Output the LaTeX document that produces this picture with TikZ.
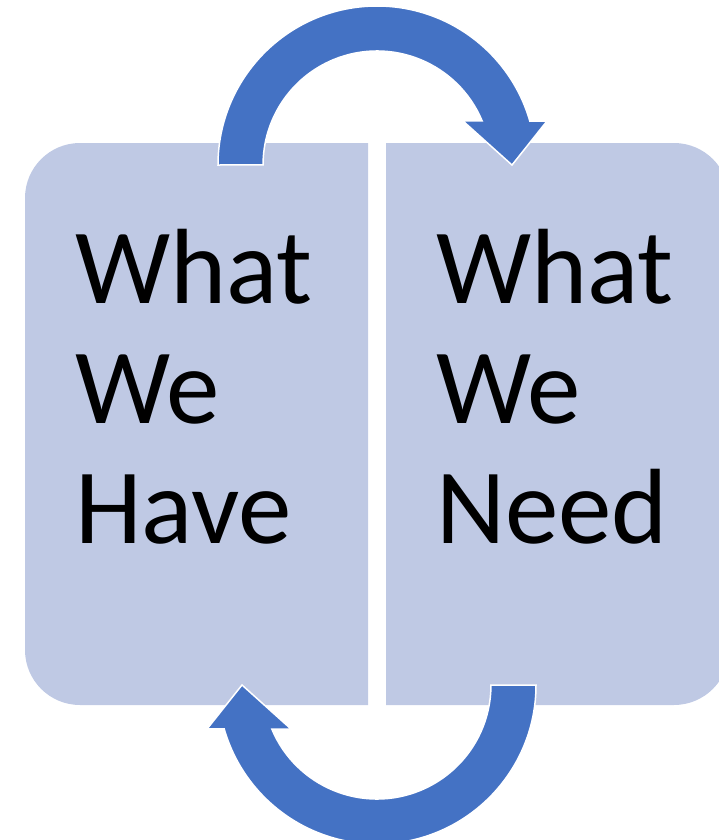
\documentclass[tikz,border=0pt]{standalone}
\usepackage{fontspec}
\setmainfont{Carlito}
\definecolor{boxfill}{HTML}{BFC9E4}
\definecolor{arrowblue}{HTML}{4472C4}
\begin{document}
\begin{tikzpicture}[x=1pt,y=-1pt,
  panel/.style={fill=boxfill},
  cyclearrow/.style={fill=arrowblue,draw=white,line width=1.5pt,line join=miter},
  boxtext/.style={anchor=base west,inner sep=0pt,font=\fontsize{107}{120}\selectfont,text=black}]
\useasboundingbox (0,0) rectangle (719,840);
\clip (0,0) rectangle (719,840);
% panels
\path[panel] (368,143) -- (80,143) arc (270:180:55) -- (25,650) arc (180:90:55) -- (368,705) -- cycle;
\path[panel] (386,143) -- (674,143) arc (270:360:55) -- (729,650) arc (0:90:55) -- (386,705) -- cycle;
% top circular arrow
\path[cyclearrow] (218,165) arc (180:344:159) -- (547,121) -- (512,165) -- (463,121) -- (482.2,121) arc (337.3:180:114) -- cycle;
% bottom circular arrow (point reflection of the top one)
\begin{scope}[rotate around={180:(377,425)}]
\path[cyclearrow] (218,165) arc (180:344:159) -- (547,121) -- (512,165) -- (463,121) -- (482.2,121) arc (337.3:180:114) -- cycle;
\end{scope}
% texts
\node[boxtext] (l1) at (75,303) {What};
\node[boxtext] (l2) at (75,423) {We};
\node[boxtext] (l3) at (75,543) {Have};
\node[boxtext] (r1) at (436,303) {What};
\node[boxtext] (r2) at (436,423) {We};
\node[boxtext] (r3) at (436,543) {Need};
\end{tikzpicture}
\end{document}
